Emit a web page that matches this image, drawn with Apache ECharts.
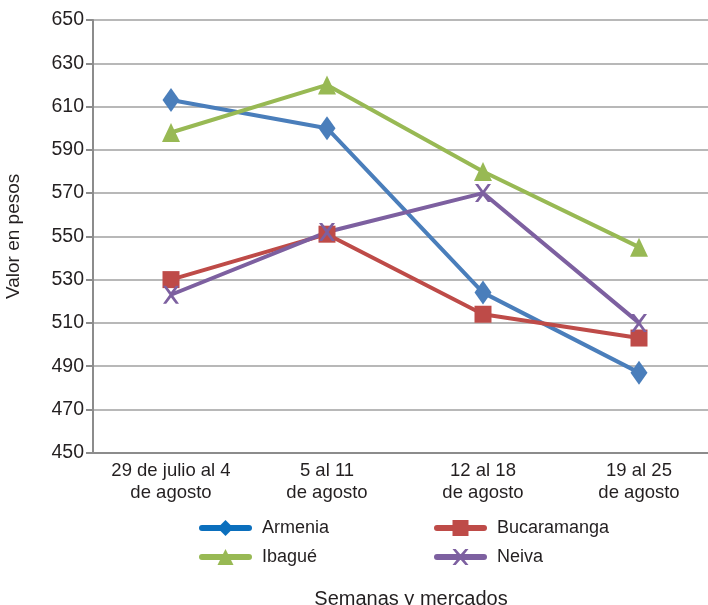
<!DOCTYPE html>
<html>
<head>
<meta charset="utf-8">
<script src="https://cdn.jsdelivr.net/npm/echarts@6/dist/echarts.min.js"></script>
<style>
  html, body { margin: 0; padding: 0; background: #fff; }
  #chart { width: 708px; height: 605px; }
</style>
</head>
<body>
<div id="chart"></div>
<script>
  const categories = ['29 de julio al 4\nde agosto', '5 al 11\nde agosto', '12 al 18\nde agosto', '19 al 25\nde agosto']
  const armenia = [613, 600, 524, 487]
  const bucaramanga = [530, 551, 514, 503]
  const ibague = [598, 620, 580, 545]
  const neiva = [523, 552, 570, 510]

  const crossPath = 'path://M0,0 L2,0 L5,3.5 L8,0 L10,0 L6,5 L10,10 L8,10 L5,6.5 L2,10 L0,10 L4,5 Z'
  const font = 'Liberation Sans, Arial, sans-serif'

  function makeSeries(name, data, color, symbol, size) {
    return {
      name: name,
      type: 'line',
      data: data,
      symbol: symbol,
      symbolSize: size,
      lineStyle: { color: color, width: 4 },
      itemStyle: { color: color },
      emphasis: { disabled: true },
      animation: false
    }
  }

  // legend entries get a thicker round-capped line like the original
  function legendItem(name, color) {
    return {
      name: name,
      itemStyle: { color: color },
      lineStyle: { color: color, width: 6, cap: 'round' }
    }
  }

  const chart = echarts.init(document.getElementById('chart'))
  const legendBase = {
    orient: 'vertical',
    itemWidth: 47,
    itemHeight: 20,
    itemGap: 11,
    textStyle: { fontFamily: font, fontSize: 18, color: '#231f20', padding: [0, 0, 0, 8] }
  }
  chart.setOption({
    textStyle: { fontFamily: font },
    grid: { left: 93, top: 20, width: 624, height: 432.7, outerBoundsMode: 'none' },
    legend: [
      Object.assign({}, legendBase, {
        left: 194, top: 514,
        data: [legendItem('Armenia', '#0b6fbd'), legendItem('Ibagué', '#98b954')]
      }),
      Object.assign({}, legendBase, {
        left: 429, top: 514,
        data: [legendItem('Bucaramanga', '#be4b48'), legendItem('Neiva', '#7d60a0')]
      })
    ],
    title: {
      text: 'Semanas y mercados',
      left: 406,
      textAlign: 'center',
      top: 584,
      textStyle: { fontFamily: font, fontSize: 20, fontWeight: 'normal', color: '#231f20' }
    },
    xAxis: {
      type: 'category',
      data: categories,
      boundaryGap: true,
      axisLine: { lineStyle: { color: '#8c8c8c', width: 2 } },
      axisTick: { show: false },
      axisLabel: { fontSize: 18.5, color: '#231f20', lineHeight: 22, margin: 7, interval: 0 }
    },
    yAxis: {
      type: 'value',
      min: 450,
      max: 650,
      interval: 20,
      name: 'Valor en pesos',
      nameLocation: 'middle',
      nameGap: 70,
      nameRotate: 90,
      nameTextStyle: { fontSize: 19, color: '#231f20' },
      axisLine: { show: true, lineStyle: { color: '#8c8c8c', width: 2 } },
      axisTick: { show: true, length: 7, lineStyle: { color: '#8c8c8c', width: 2 } },
      axisLabel: { fontSize: 19.5, color: '#231f20', margin: 9 },
      splitLine: { lineStyle: { color: '#a0a0a0', width: 1.5 } }
    },
    series: [
      makeSeries('Armenia', armenia, '#4a7ebb', 'diamond', [17, 24]),
      makeSeries('Bucaramanga', bucaramanga, '#be4b48', 'rect', 17),
      makeSeries('Ibagué', ibague, '#98b954', 'triangle', [18, 19]),
      makeSeries('Neiva', neiva, '#7d60a0', crossPath, [16, 18])
    ]
  })
</script>
</body>
</html>
